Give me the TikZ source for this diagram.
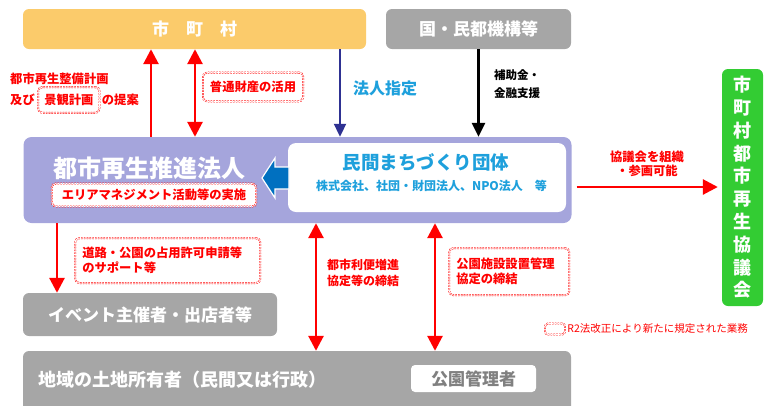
\documentclass[tikz,border=0pt]{standalone}
\usepackage{fontspec}
\setmainfont{Noto Sans CJK JP}
\usetikzlibrary{arrows.meta,positioning}
\definecolor{shiorange}{RGB}{251,203,107}
\definecolor{boxgray}{RGB}{166,166,166}
\definecolor{lavender}{RGB}{165,165,220}
\definecolor{arrowblue}{RGB}{0,112,192}
\definecolor{navy}{RGB}{46,49,146}
\definecolor{skyblue}{RGB}{30,160,220}
\definecolor{kyogreen}{RGB}{51,204,51}
\definecolor{textgray}{RGB}{128,128,128}

\begin{document}
\begin{tikzpicture}[x=1pt, y=-1pt,
    box/.style={rounded corners=6pt, inner sep=0pt, text=white, font=\fontsize{17}{20}\selectfont\bfseries},
    redlbl/.style={text=red, font=\fontsize{12.3}{15}\selectfont\bfseries, align=left, inner sep=0pt},
    dashbox/.style={draw=red, double=white, double distance=0.9pt, line width=0.5pt,
        dash pattern=on 1.6pt off 1.2pt, rounded corners=4pt},
    redarr/.style={red, line width=2.8pt, -{Triangle[width=15pt,length=15pt]}},
    redboth/.style={red, line width=2.8pt, {Triangle[width=15pt,length=15pt]}-{Triangle[width=15pt,length=15pt]}}]
    \useasboundingbox (0, 0) rectangle (768, 405);

    % boxes
    \node[box, fill=shiorange, minimum width=343pt, minimum height=40pt] (shichoson) at (194.5, 29) {市　町　村};
    \node[box, fill=boxgray, minimum width=185pt, minimum height=40pt] (kuni) at (478.5, 29) {国・民都機構等};
    \node[box, fill=lavender, rounded corners=8pt, minimum width=548pt, minimum height=86pt] (suishin) at (297.5, 180) {};
    \node[box, fill=white, rounded corners=8pt, minimum width=278pt, minimum height=69pt] (minkan) at (427, 177.5) {};
    \node[box, fill=boxgray, minimum width=254pt, minimum height=43pt] (event) at (150, 314.5) {イベント主催者・出店者等};
    \node[box, fill=boxgray, minimum width=548pt, minimum height=64pt] (tochi) at (297, 383) {};
    \node[box, fill=white, rounded corners=4pt, text=textgray, minimum width=125pt, minimum height=27pt] (koen) at (473.5, 378.5) {公園管理者};
    \node[box, fill=kyogreen, align=center, font=\fontsize{18}{22.8}\selectfont\bfseries,
        minimum width=41pt, minimum height=237pt] (kyogikai) at (742.5, 187.5)
        {市\\町\\村\\都\\市\\再\\生\\協\\議\\会};

    % texts inside the boxes
    \node[text=white, font=\fontsize{18}{20}\selectfont\bfseries, anchor=west, inner sep=0pt] (tochimei) at (38, 380) {地域の土地所有者（民間又は行政）};
    \node[text=white, font=\fontsize{24}{28}\selectfont\bfseries, anchor=west, inner sep=0pt] (hojinmei) at (53, 168) {都市再生推進法人};
    \node[redlbl, dashbox, fill=white, inner xsep=10pt, inner ysep=5.5pt] (erea) at (154, 195) {エリアマネジメント活動等の実施};
    \node[text=skyblue, font=\fontsize{18.5}{22}\selectfont\bfseries, inner sep=0pt] (dantai) at (426, 162) {民間まちづくり団体};
    \node[text=skyblue, font=\fontsize{12}{14}\selectfont\bfseries, inner sep=0pt] (dantaisub) at (431.5, 186) {株式会社、社団・財団法人、NPO法人　等};
    \filldraw[fill=arrowblue, draw=white, line width=1.2pt]
        (262, 178) -- (275, 158) -- (275, 167) -- (289, 167) -- (289, 189) -- (275, 189) -- (275, 198) -- cycle;

    % arrows
    \coordinate (c1) at (151, 0);
    \coordinate (c2) at (195, 0);
    \coordinate (c3) at (340, 0);
    \coordinate (c4) at (57, 0);
    \coordinate (c5) at (316, 0);
    \coordinate (c6) at (435, 0);
    \coordinate (r1) at (0, 187);
    \draw[redarr] (c1 |- suishin.north) to (c1 |- shichoson.south);
    \draw[redboth] (c2 |- suishin.north) to (c2 |- shichoson.south);
    \draw[navy, line width=2pt, -{Triangle[width=12pt,length=13pt]}] (c3 |- shichoson.south) to (c3 |- suishin.north);
    \draw[black, line width=2.5pt, -{Triangle[width=13pt,length=14pt]}] (kuni.south) to (kuni.south |- suishin.north);
    \draw[redarr] (c4 |- suishin.south) to (c4 |- event.north);
    \draw[redboth] (c5 |- suishin.south) to (c5 |- tochi.north);
    \draw[redboth] (c6 |- suishin.south) to (c6 |- tochi.north);
    \draw[redarr, shorten <=5pt, shorten >=4pt] (suishin.east |- r1) to (kyogikai.west |- r1);

    % labels
    \node[redlbl, anchor=west] (teian1) at (10, 79) {都市再生整備計画};
    \node[redlbl, anchor=west] (teian2) at (10, 100) {及び};
    \node[redlbl, dashbox, inner xsep=6pt, inner ysep=7pt, right=3pt of teian2] (keikan) {景観計画};
    \node[redlbl, right=2pt of keikan] (teian3) {の提案};
    \node[redlbl, dashbox, inner xsep=7pt, inner ysep=8.5pt] (futsu) at (253, 87) {普通財産の活用};
    \node[text=skyblue, font=\fontsize{16}{19}\selectfont\bfseries, inner sep=0pt] (shitei) at (385, 88) {法人指定};
    \node[anchor=west, font=\fontsize{11.5}{18}\selectfont\bfseries, align=left, inner sep=0pt] (hojo) at (494, 84) {補助金・\\金融支援};
    \node[redlbl, align=center, font=\fontsize{12.3}{14}\selectfont\bfseries] (sokaku) at (647, 164) {協議会を組織\\・参画可能};
    \node[redlbl, dashbox, anchor=north west, text width=171pt, inner xsep=7pt, inner ysep=9pt] (doro) at (75, 238)
        {道路・公園の占用許可申請等\\のサポート等};
    \node[redlbl, anchor=west, font=\fontsize{12}{16}\selectfont\bfseries] (rinzo) at (327, 273) {都市利便増進\\協定等の締結};
    \node[redlbl, dashbox, anchor=north west, text width=106pt, inner xsep=7pt, inner ysep=10pt] (kochi) at (449, 248)
        {公園施設設置管理\\協定の締結};

    % legend
    \node[dashbox, rounded corners=3pt, minimum width=20pt, minimum height=11pt, inner sep=0pt] (hanrei) at (555, 329) {};
    \node[text=red, font=\fontsize{10.5}{12}\selectfont, inner sep=0pt, right=2pt of hanrei] (hanreimoji) {R2法改正により新たに規定された業務};
\end{tikzpicture}
\end{document}
